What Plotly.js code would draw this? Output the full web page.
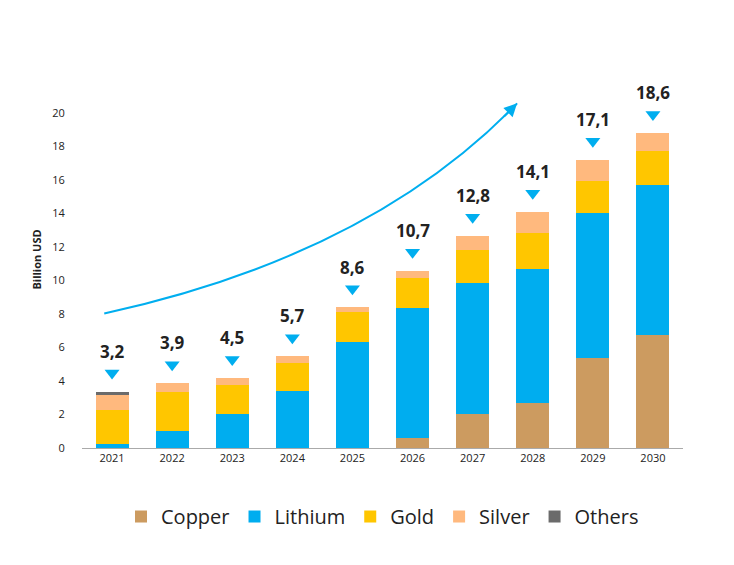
<!DOCTYPE html>
<html>
<head>
<meta charset="utf-8">
<script src="https://cdn.plot.ly/plotly-3.0.1.min.js"></script>
<style>body{margin:0;background:#fff}#chart{width:734px;height:565px}</style>
</head>
<body>
<div id="chart"></div>
<script>
// values (billion USD, stacked segments)
var years = [2021, 2022, 2023, 2024, 2025, 2026, 2027, 2028, 2029, 2030];
var copper = [0, 0, 0, 0, 0, 0.58, 2.0, 2.67, 5.36, 6.72];
var lithium = [0.24, 1.0, 2.02, 3.43, 6.3, 7.79, 7.82, 7.99, 8.64, 8.97];
var gold = [2.05, 2.37, 1.77, 1.63, 1.8, 1.79, 2.01, 2.19, 1.95, 2.03];
var silver = [0.9, 0.5, 0.39, 0.42, 0.3, 0.42, 0.84, 1.25, 1.25, 1.08];
var others = [0.18, 0, 0, 0, 0, 0, 0, 0, 0, 0];
var totalLabels = ['3,2', '3,9', '4,5', '5,7', '8,6', '10,7', '12,8', '14,1', '17,1', '18,6'];

var tops = years.map(function(y, i) {
  return copper[i] + lithium[i] + gold[i] + silver[i] + others[i];
});

function bar(name, vals, color) {
  return {x: years, y: vals, type: 'bar', name: name, width: 0.55,
          marker: {color: color}, hoverinfo: 'skip'};
}

var traces = [
  bar('Copper', copper, '#cc9b60'),
  bar('Lithium', lithium, '#00adef'),
  bar('Gold', gold, '#ffc600'),
  bar('Silver', silver, '#ffb97e'),
  bar('Others', others, '#6b6b6b'),
  {x: years, y: tops.map(function(t){ return t + 1.1; }), type: 'scatter', mode: 'markers',
   marker: {symbol: 'triangle-down', size: 13, color: '#00aeef'}, showlegend: false,
   cliponaxis: false, hoverinfo: 'skip'}
];

var annotations = years.map(function(y, i) {
  return {x: y, y: tops[i] + 2.4, text: '<b>' + totalLabels[i] + '</b>', showarrow: false,
          font: {size: 17, color: '#222', family: 'Open Sans'}};
});
// arrow head of the growth curve
annotations.push({x: 2027.74, y: 20.57, ax: 2027.5, ay: 19.7, axref: 'x', ayref: 'y',
  xref: 'x', yref: 'y', showarrow: true, arrowhead: 2, arrowsize: 1.3, arrowwidth: 2,
  arrowcolor: '#00aeef', text: ''});

var layout = {
  width: 734, height: 565,
  margin: {l: 82, r: 51, t: 71, b: 117},
  paper_bgcolor: '#fff', plot_bgcolor: '#fff',
  barmode: 'stack',
  font: {family: 'Open Sans', color: '#222'},
  xaxis: {range: [2020.5, 2030.5], tickvals: years, ticktext: years.map(String),
          showgrid: false, zeroline: false, showline: true, linecolor: '#aaa',
          ticks: '', tickfont: {size: 11}},
  yaxis: {range: [0, 22.5], tickvals: [0, 2, 4, 6, 8, 10, 12, 14, 16, 18, 20],
          showgrid: false, zeroline: false, showline: false, tickfont: {size: 11},
          ticks: 'outside', ticklen: 14, tickcolor: '#fff',
          title: {text: '<b>Billion USD</b>', font: {size: 11}, standoff: 8}},
  shapes: [{type: 'path', xref: 'x', yref: 'y',
            path: 'M 2020.87,8.03 Q 2025.3,11.5 2027.74,20.57',
            line: {color: '#00aeef', width: 2}}],
  annotations: annotations,
  legend: {orientation: 'h', x: 0.5, xanchor: 'center', y: -0.13, yanchor: 'top',
           font: {size: 20}, itemwidth: 30, traceorder: 'normal'}
};

Plotly.newPlot('chart', traces, layout, {displayModeBar: false, staticPlot: true});
</script>
</body>
</html>
